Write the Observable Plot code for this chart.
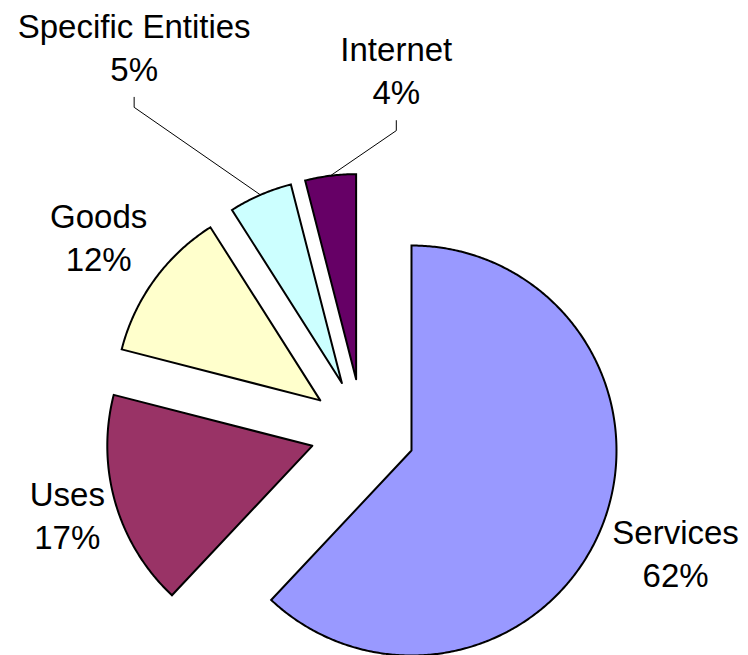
<!DOCTYPE html>
<html><head><meta charset="utf-8">
<script src="https://cdn.jsdelivr.net/npm/d3@7"></script>
<script src="https://cdn.jsdelivr.net/npm/@observablehq/plot@0.6"></script>
<style>html,body{margin:0;padding:0;background:#fff;} #chart svg{display:block}</style>
</head><body><div id="chart"></div>
<script>
// ---- data ----
const categories = ["Services", "Uses", "Goods", "Specific Entities", "Internet"];
const shares = [62, 17, 12, 5, 4];
const colors = ["#9999FF", "#993366", "#FFFFCC", "#CCFFFF", "#660066"];

// ---- layout ----
const W = 748, H = 655;
const R = 205;                 // pixels per pie radius
const cx = 362.2, cy = 430.7;  // pie centre in pixels
const explode = 0.256;         // explosion, in radius units
const fontSize = 33, lineHeight = 43 / 33;
const fontFamily = "'Liberation Sans', Arial, Helvetica, sans-serif";
const gap = 11 / R;
const halfBlock = 34 / R;
// manually dragged labels (offset from their automatic position, radius units)
const manualNudge = {"Specific Entities": [-0.523, 0.495], "Internet": [0.349, 0.284]};

const pie = d3.pie().sort(null).value(d => d.share)(
  categories.map((c, i) => ({category: c, share: shares[i]}))
);

const slices = [];
pie.forEach(p => {
  const m = (p.startAngle + p.endAngle) / 2;
  const ox = explode * Math.sin(m), oy = explode * Math.cos(m);
  const pts = [[ox, oy]];
  const n = Math.max(2, Math.ceil((p.endAngle - p.startAngle) / (Math.PI / 360)));
  for (let k = 0; k <= n; k++) {
    const a = p.startAngle + (p.endAngle - p.startAngle) * k / n;
    pts.push([ox + Math.sin(a), oy + Math.cos(a)]);
  }
  pts.push([ox, oy]);
  pts.forEach(([x, y]) => slices.push({category: p.data.category, x, y}));
});

const ctx = document.createElement("canvas").getContext("2d");
ctx.font = `${fontSize}px "Liberation Sans"`;

const labels = [];
const leaders = [];
pie.forEach(p => {
  const cat = p.data.category;
  const m = (p.startAngle + p.endAngle) / 2;
  const s = Math.sin(m), c = Math.cos(m);
  const lines = [cat, p.data.share + "%"];
  const w = Math.max(...lines.map(t => ctx.measureText(t).width));
  const hw = w / 2 / R;
  const t = Math.min(Math.abs(s) > 1e-6 ? hw / Math.abs(s) : Infinity,
                     Math.abs(c) > 1e-6 ? halfBlock / Math.abs(c) : Infinity);
  const d = 1 + gap + t;
  let x = (explode + d) * s, y = (explode + d) * c;
  const nudge = manualNudge[cat];
  if (nudge) {
    x += nudge[0]; y += nudge[1];
    leaders.push({category: cat, x: (explode + 1) * s, y: (explode + 1) * c});
    leaders.push({category: cat, x: x, y: y - 58 / R});
    leaders.push({category: cat, x: x, y: y - 48 / R});
  }
  labels.push({category: cat, text: lines.join("\n"), x, y});
});

const chart = Plot.plot({
  width: W, height: H, margin: 0,
  style: {background: "#fff"},
  x: {domain: [-cx / R, (W - cx) / R], axis: null},
  y: {domain: [(cy - H) / R, cy / R], axis: null},
  color: {domain: categories, range: colors},
  marks: [
    Plot.line(slices, {x: "x", y: "y", z: "category", fill: "category", stroke: "black",
      strokeWidth: 2, strokeLinejoin: "miter", strokeMiterlimit: 4, curve: "linear"}),
    Plot.line(leaders, {x: "x", y: "y", z: "category", stroke: "black", strokeWidth: 1, curve: "linear"}),
    Plot.text(labels, {x: "x", y: "y", text: "text", fontSize, fontFamily, lineHeight, dy: -3.5,
      lineAnchor: "middle", textAnchor: "middle", fill: "black"})
  ]
});
document.getElementById("chart").appendChild(chart);
</script>
</body></html>
